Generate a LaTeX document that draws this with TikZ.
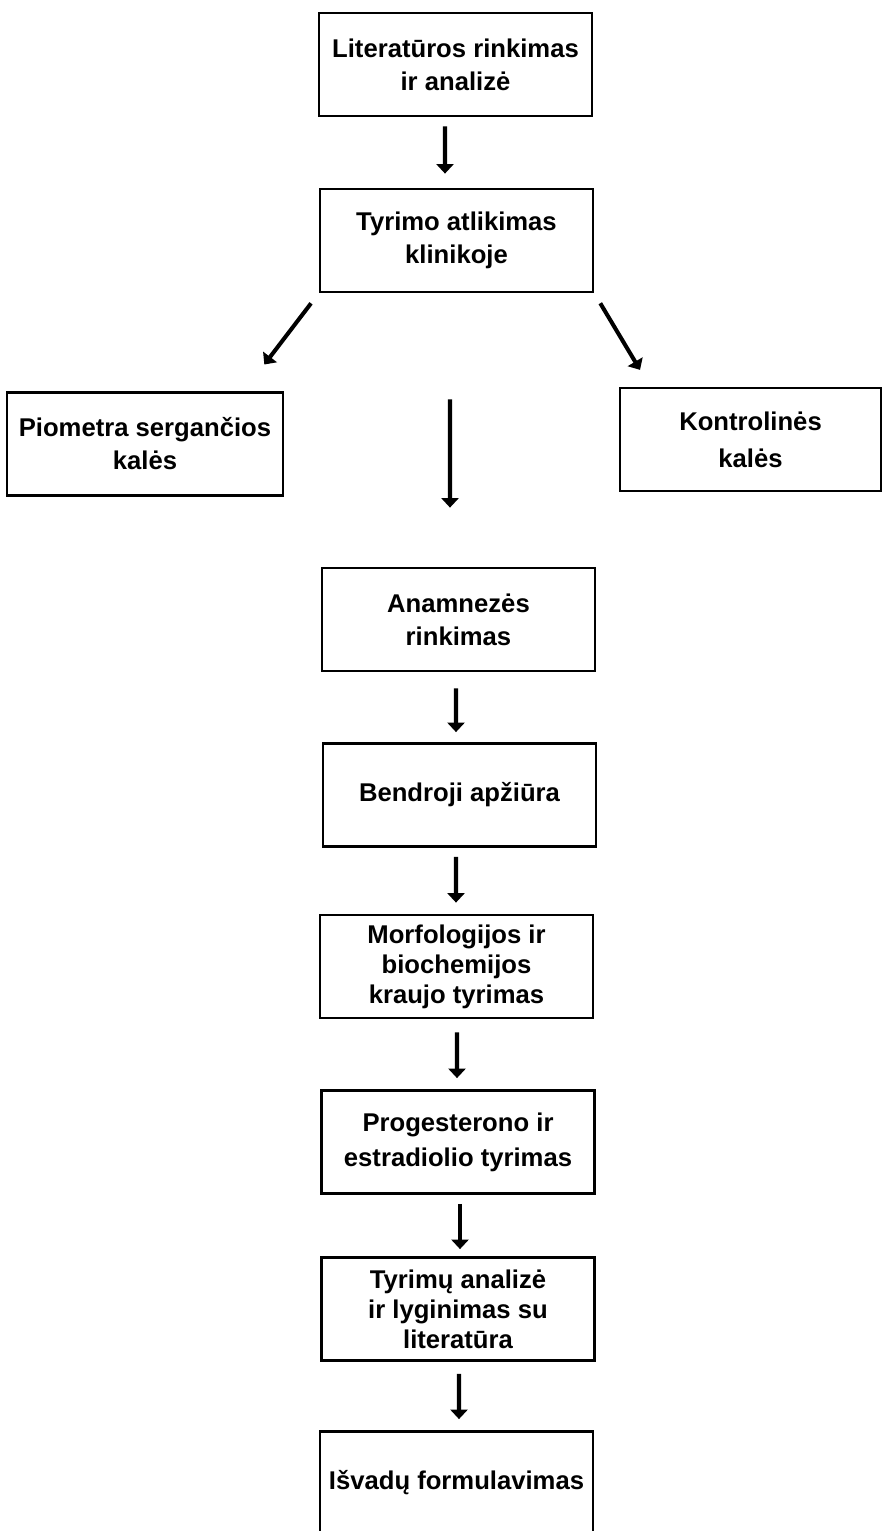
\documentclass[tikz,border=0pt]{standalone}
\usepackage{fontspec}
\setmainfont{Liberation Sans}
\usepackage{tikz}
\usetikzlibrary{arrows.meta}

\begin{document}
\begin{tikzpicture}[x=0.02cm, y=-0.02cm,
  blk/.style={draw, line width=1.6pt, minimum width=5.46cm, minimum height=2.06cm, align=center,
    font=\fontsize{14.6}{18.8}\selectfont\bfseries},
  tight/.style={font=\fontsize{14.6}{17}\selectfont\bfseries},
  arr/.style={-{Triangle[width=0.34cm, length=0.19cm]}, line width=2.3pt}]
  \useasboundingbox (0,0) rectangle (882,1531);

  \node[blk] (s1) at (455.5,64.5) {Literatūros rinkimas\\ir analizė};
  \node[blk] (s2) at (456.5,240.5) {Tyrimo atlikimas\\klinikoje};
  \node[blk, minimum width=5.52cm] (g1) at (145,444) {Piometra sergančios\\kalės};
  \node[blk, minimum width=5.22cm, font=\fontsize{14.6}{21}\selectfont\bfseries] (g2) at (750.5,439.5) {Kontrolinės\\kalės};
  \node[blk] (s3) at (458.5,619.5) {Anamnezės\\rinkimas};
  \node[blk] (s4) at (459.5,795) {Bendroji apžiūra};
  \node[blk, tight] (s5) at (456.5,966.5) {Morfologijos ir\\biochemijos\\kraujo tyrimas};
  \node[blk, font=\fontsize{14.6}{20}\selectfont\bfseries] (s6) at (458,1142) {Progesterono ir\\estradiolio tyrimas};
  \node[blk, tight] (s7) at (458,1309) {Tyrimų analizė\\ir lyginimas su\\literatūra};
  \node[blk] (s8) at (456.5,1483) {Išvadų formulavimas};

  \draw[arr, shorten <=0.18cm, shorten >=0.28cm] ([xshift=-0.21cm]s1.south) -- ([xshift=-0.23cm]s2.north);
  \draw[arr, shorten <=0.25cm, shorten >=0.67cm] (s2.south west) -- ([xshift=1.98cm]g1.north);
  \draw[arr, shorten <=0.23cm, shorten >=0.39cm] (s2.south east) -- ([xshift=-2.01cm]g2.north);
  \draw[arr, shorten <=2.12cm, shorten >=1.18cm] ([xshift=-0.13cm]s2.south) -- ([xshift=-0.17cm]s3.north);
  \draw[arr, shorten <=0.32cm, shorten >=0.2cm] ([xshift=-0.05cm]s3.south) -- ([xshift=-0.07cm]s4.north);
  \draw[arr, shorten <=0.18cm, shorten >=0.22cm] ([xshift=-0.07cm]s4.south) -- ([xshift=-0.01cm]s5.north);
  \draw[arr, shorten <=0.26cm, shorten >=0.22cm] ([xshift=0.01cm]s5.south) -- ([xshift=-0.02cm]s6.north);
  \draw[arr, shorten <=0.18cm, shorten >=0.14cm] ([xshift=0.04cm]s6.south) -- ([xshift=0.04cm]s7.north);
  \draw[arr, shorten <=0.24cm, shorten >=0.22cm] ([xshift=0.02cm]s7.south) -- ([xshift=0.05cm]s8.north);
\end{tikzpicture}
\end{document}
